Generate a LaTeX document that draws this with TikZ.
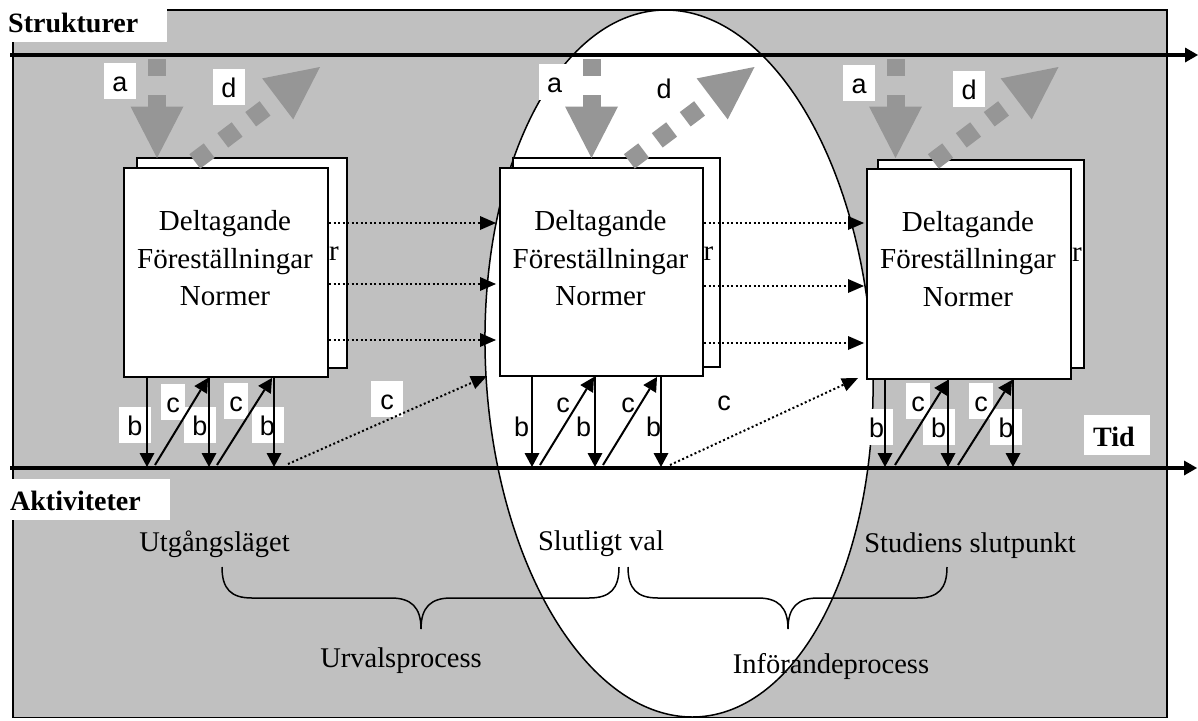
\documentclass[tikz,border=0pt]{standalone}
\usepackage{fontspec}
\setmainfont{Liberation Serif}
\newfontfamily\arialfont{Liberation Sans}
\usetikzlibrary{arrows.meta,calc}
\definecolor{bggray}{RGB}{192,192,192}
\definecolor{argray}{RGB}{150,150,150}
\begin{document}
\begin{tikzpicture}[x=1pt,y=-1pt,
  box/.style={draw, line width=2pt, fill=white, inner sep=0pt, anchor=north west},
  boxtext/.style={font=\fontsize{29}{37.5}\selectfont, align=center, inner sep=0pt, anchor=north},
  backr/.style={font=\fontsize{29}{37.5}\selectfont, inner sep=0pt, anchor=base west},
  patch/.style={fill=white, inner sep=0pt, anchor=north west},
  boldlbl/.style={font=\fontsize{28}{34}\selectfont\bfseries, inner sep=0pt, anchor=base west},
  txt/.style={font=\fontsize{28.5}{34}\selectfont, inner sep=0pt, anchor=base},
  lbl/.style={fill=white, font=\arialfont\fontsize{27}{32}\selectfont, text height=24pt, text depth=3pt, inner ysep=4.5pt, inner xsep=0pt, minimum width=32pt},
  slbl/.style={lbl, minimum width=24pt},
  axisline/.style={line width=4pt, -{Triangle[width=15pt,length=13pt,line width=0pt]}},
  barrow/.style={line width=2pt, -{Triangle[width=15pt,length=14pt,line width=0pt]}},
  darrow/.style={line width=2pt, dash pattern=on 2pt off 2.5pt, -{Triangle[width=14pt,length=16pt,line width=0pt]}},
  gshaft/.style={draw=argray, line width=18pt, dash pattern=on 17pt off 19pt},
  dshaft/.style={draw=argray, line width=18pt, dash pattern=on 18pt off 17pt},
  bracepath/.style={line width=1.5pt},
]
\useasboundingbox (0,0) rectangle (1198,720);
\fill[white] (0,0) rectangle (1198,720);
% background panel
\draw[line width=1.5pt, fill=bggray] (13,10) rectangle (1167,717.5);
% ellipse
\draw[line width=1.5pt, fill=white] plot[smooth cycle, domain=0:358, samples=180]
  ({679+13.26*sin(\x)+193.6*cos(\x)},{363.5+353.5*sin(\x)});
% white patches and headings
\node[patch, minimum width=167pt, minimum height=42pt] (sp) at (0,0) {};
\node[boldlbl] (strukt) at (8,32) {Strukturer};
\node[patch, minimum width=170pt, minimum height=41pt] (ap) at (0,479) {};
\node[boldlbl] (aktiv) at (10,510) {Aktiviteter};
\node[patch, minimum width=66pt, minimum height=40pt] (tp) at (1084,415) {};
\node[boldlbl] (tid) at (1093,446) {Tid};
% axes
\coordinate (topL) at (10,55);
\coordinate (topR) at (1198,55);
\coordinate (botL) at (10,468);
\coordinate (botR) at (1197,468);
\draw[axisline] (topL) -- (topR);
\draw[axisline] (botL) -- (botR);
% boxes
\newcommand\boxtxt{Deltagande\\Föreställningar\\Normer}
\node[box, minimum width=210pt, minimum height=210pt] (k1) at (136,157) {};
\node[backr] (kr1) at (329,260) {r};
\node[box, minimum width=204pt, minimum height=209pt] (f1) at (123,167) {};
\node[boxtext] (ft1) at (225,210.2) {\boxtxt};
\node[box, minimum width=207pt, minimum height=209pt] (k2) at (512,157) {};
\node[backr] (kr2) at (703.5,260) {r};
\node[box, minimum width=203pt, minimum height=208pt] (f2) at (499,167) {};
\node[boxtext] (ft2) at (600.5,210.2) {\boxtxt};
\node[box, minimum width=206pt, minimum height=208pt] (k3) at (877,159) {};
\node[backr] (kr3) at (1072,261) {r};
\node[box, minimum width=204pt, minimum height=210pt] (f3) at (866,168) {};
\node[boxtext] (ft3) at (968,211) {\boxtxt};
% grey arrows a and d
\foreach \ax in {157,591.5,895.5} {
  \draw[gshaft] (\ax,59) -- (\ax,107);
  \fill[argray] (\ax-26.5,106.5) -- (\ax+26.5,106.5) -- (\ax,158) -- cycle;
  \draw[dshaft] (\ax+37.8,161.4) -- (\ax+120.7,98.9);
  \fill[argray] (\ax+105.2,78.4) -- (\ax+163,67) -- (\ax+136.2,119.4) -- cycle;
}
% labels
\node[lbl] (la1) at (120,81) {a};
\node[lbl] (ld1) at (229,87) {d};
\node[lbl] (lb11) at (135,424.5) {b};
\node[lbl] (lb12) at (200,424.5) {b};
\node[lbl] (lb13) at (267.5,424.5) {b};
\node[slbl] (lc11) at (173,401.5) {c};
\node[slbl] (lc12) at (236,400.5) {c};
\node[lbl] (lc1) at (387,398.5) {c};
\node[lbl] (la2) at (554.5,82) {a};
\node[lbl] (ld2) at (664,88) {d};
\node[lbl] (lb21) at (521.5,426) {b};
\node[lbl] (lb22) at (583.5,426) {b};
\node[lbl] (lb23) at (653.5,426) {b};
\node[slbl] (lc21) at (563,401.5) {c};
\node[slbl] (lc22) at (628,401.5) {c};
\node[lbl] (lc2) at (724,400) {c};
\node[lbl] (la3) at (859,82.5) {a};
\node[lbl] (ld3) at (969,89) {d};
\node[lbl] (lb31) at (876.5,427) {b};
\node[lbl] (lb32) at (938.5,427) {b};
\node[lbl] (lb33) at (1006,427) {b};
\node[slbl] (lc31) at (918,401) {c};
\node[slbl] (lc32) at (981,401) {c};
% dotted arrows between boxes
\foreach \yy in {223,284,340} {
  \draw[darrow, shorten >=3pt] (f1.east |- 0,\yy) -- (f2.west |- 0,\yy);
}
\foreach \yy in {223,286,343} {
  \draw[darrow, shorten >=2pt] (f2.east |- 0,\yy) -- (f3.west |- 0,\yy);
}
\draw[darrow] (288,464) -- (487,376);
\draw[darrow] (670,465) -- (858,378);
% b arrows (down) and c arrows (up)
\foreach \bx in {147,209,274} { \draw[barrow] (f1.south -| \bx,0) -- (\bx,467); }
\foreach \bx in {532,595,661} { \draw[barrow] (f2.south -| \bx,0) -- (\bx,467); }
\foreach \bx in {885,948,1013} { \draw[barrow] (f3.south -| \bx,0) -- (\bx,467); }
\draw[barrow] (155,465) -- (f1.south -| 208,0);
\draw[barrow] (217,465) -- (f1.south -| 272,0);
\draw[barrow] (540,465) -- (f2.south -| 594,0);
\draw[barrow] (603,465) -- (f2.south -| 657,0);
\draw[barrow] (895,465) -- (f3.south -| 948,0);
\draw[barrow] (958,465) -- (f3.south -| 1012,0);
% bottom texts
\node[txt] (utg) at (214.5,551) {Utgångsläget};
\node[txt] (slv) at (601,550) {Slutligt val};
\node[txt] (ssp) at (970,552) {Studiens slutpunkt};
\node[txt] (urv) at (401,667) {Urvalsprocess};
\node[txt] (inf) at (831,673) {Införandeprocess};
% braces
\draw[bracepath] (222,567) .. controls (222,589) and (231,598) .. (252,598) -- (391,598)
  .. controls (411,598) and (421,607) .. (421,629) .. controls (421,607) and (431,598) .. (451,598)
  -- (589,598) .. controls (610,598) and (619,589) .. (619,567);
\draw[bracepath] (628,567) .. controls (628,589) and (637,598) .. (658,598) -- (758,598)
  .. controls (778,598) and (788,607) .. (788,629) .. controls (788,607) and (798,598) .. (818,598)
  -- (917,598) .. controls (938,598) and (947,589) .. (947,567);
\end{tikzpicture}
\end{document}
